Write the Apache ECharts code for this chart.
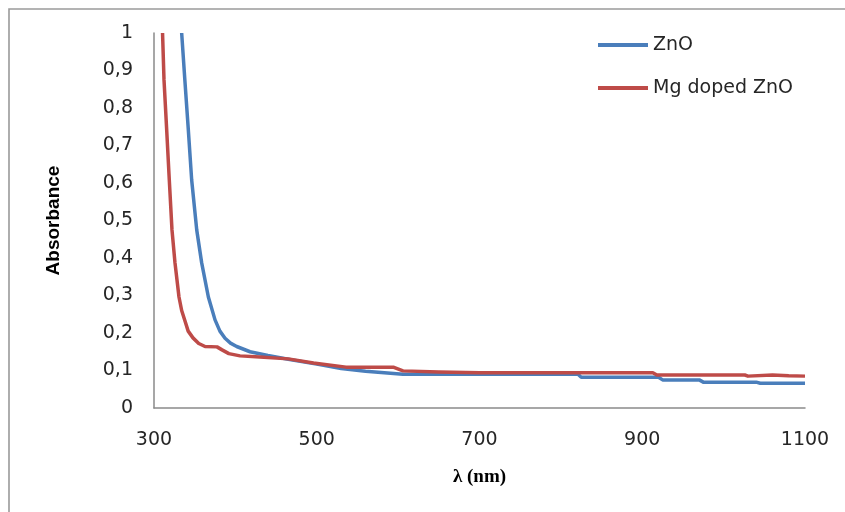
<!DOCTYPE html>
<html>
<head>
<meta charset="utf-8">
<script src="https://cdn.jsdelivr.net/npm/echarts@6/dist/echarts.min.js"></script>
<style>
  html, body { margin: 0; padding: 0; background: #ffffff; }
  #chart { width: 845px; height: 512px; }
</style>
</head>
<body>
<div id="chart"></div>
<script>
// Wavelength (nm) and absorbance for undoped ZnO
const znoWavelength = [334, 337.9, 342.2, 346.3, 352.5, 358.6, 366.8, 375, 381, 387.3, 394, 401.6, 418, 440, 465, 500, 530, 560, 606, 676, 821, 825, 920, 925, 970, 975, 1040, 1045, 1100];
const znoAbsorbance = [1.0, 0.875, 0.741, 0.608, 0.475, 0.387, 0.296, 0.235, 0.205, 0.186, 0.173, 0.164, 0.15, 0.14, 0.13, 0.117, 0.105, 0.098, 0.09, 0.09, 0.09, 0.082, 0.082, 0.075, 0.075, 0.069, 0.069, 0.066, 0.066];

// Wavelength (nm) and absorbance for Mg doped ZnO
const mgWavelength = [310.5, 312.3, 315.6, 318.8, 322.1, 325.8, 330.7, 334, 338.1, 342, 347.9, 355, 362.7, 377.4, 383.6, 392, 405.7, 430, 465, 496, 536, 594, 606, 650, 700, 913, 918, 1026, 1030, 1060, 1080, 1100];
const mgAbsorbance = [1.0, 0.875, 0.741, 0.608, 0.475, 0.387, 0.296, 0.26, 0.232, 0.205, 0.187, 0.172, 0.164, 0.163, 0.155, 0.145, 0.139, 0.136, 0.131, 0.12, 0.109, 0.109, 0.099, 0.096, 0.094, 0.094, 0.088, 0.088, 0.085, 0.088, 0.086, 0.085];

const seriesNames = ['ZnO', 'Mg doped ZnO'];
const xTitle = 'λ (nm)';
const yTitle = 'Absorbance';

const pairs = (xs, ys) => xs.map((x, i) => [x, ys[i]]);

const chart = echarts.init(document.getElementById('chart'), null, { renderer: 'canvas' });

const tickFont = { fontFamily: 'DejaVu Sans', fontSize: 19, color: '#262626' };

chart.setOption({
  animation: false,
  backgroundColor: '#ffffff',
  graphic: [{
    type: 'rect',
    shape: { x: 9, y: 9, width: 900, height: 600 },
    style: { fill: 'none', stroke: '#9a9a9a', lineWidth: 1.6 },
    silent: true
  }],
  grid: { left: 154, right: 40, top: 33, bottom: 104 },
  legend: {
    orient: 'vertical',
    left: 598,
    top: 35,
    padding: 0,
    itemGap: 23,
    itemWidth: 50,
    itemHeight: 4,
    icon: 'rect',
    textStyle: { fontFamily: 'DejaVu Sans', fontSize: 19, lineHeight: 20, color: '#262626' },
    data: seriesNames
  },
  xAxis: {
    type: 'value',
    min: 300,
    max: 1100,
    interval: 200,
    name: xTitle,
    nameLocation: 'middle',
    nameGap: 60,
    nameTextStyle: { fontFamily: 'Liberation Serif', fontWeight: 'bold', fontSize: 19, color: '#000' },
    axisLine: { show: true, lineStyle: { color: '#8a8a8a', width: 1.5 } },
    axisTick: { show: false },
    splitLine: { show: false },
    axisLabel: Object.assign({ margin: 23, formatter: v => String(v) }, tickFont)
  },
  yAxis: {
    type: 'value',
    min: 0,
    max: 1,
    interval: 0.1,
    name: yTitle,
    nameLocation: 'middle',
    nameGap: 91,
    nameRotate: 90,
    nameTextStyle: { fontFamily: 'Liberation Sans', fontWeight: 'bold', fontSize: 19, color: '#000' },
    axisLine: { show: true, lineStyle: { color: '#8a8a8a', width: 1.5 } },
    axisTick: { show: false },
    splitLine: { show: false },
    axisLabel: Object.assign({
      margin: 21,
      formatter: v => (v === 0 ? '0' : v === 1 ? '1' : v.toFixed(1).replace('.', ','))
    }, tickFont)
  },
  series: [
    {
      name: seriesNames[0],
      type: 'line',
      showSymbol: false,
      symbol: 'none',
      color: '#4a7ebb',
      lineStyle: { width: 3.5, color: '#4a7ebb', join: 'round' },
      data: pairs(znoWavelength, znoAbsorbance)
    },
    {
      name: seriesNames[1],
      type: 'line',
      showSymbol: false,
      symbol: 'none',
      color: '#be4b48',
      lineStyle: { width: 3.5, color: '#be4b48', join: 'round' },
      data: pairs(mgWavelength, mgAbsorbance)
    }
  ]
});
</script>
</body>
</html>
